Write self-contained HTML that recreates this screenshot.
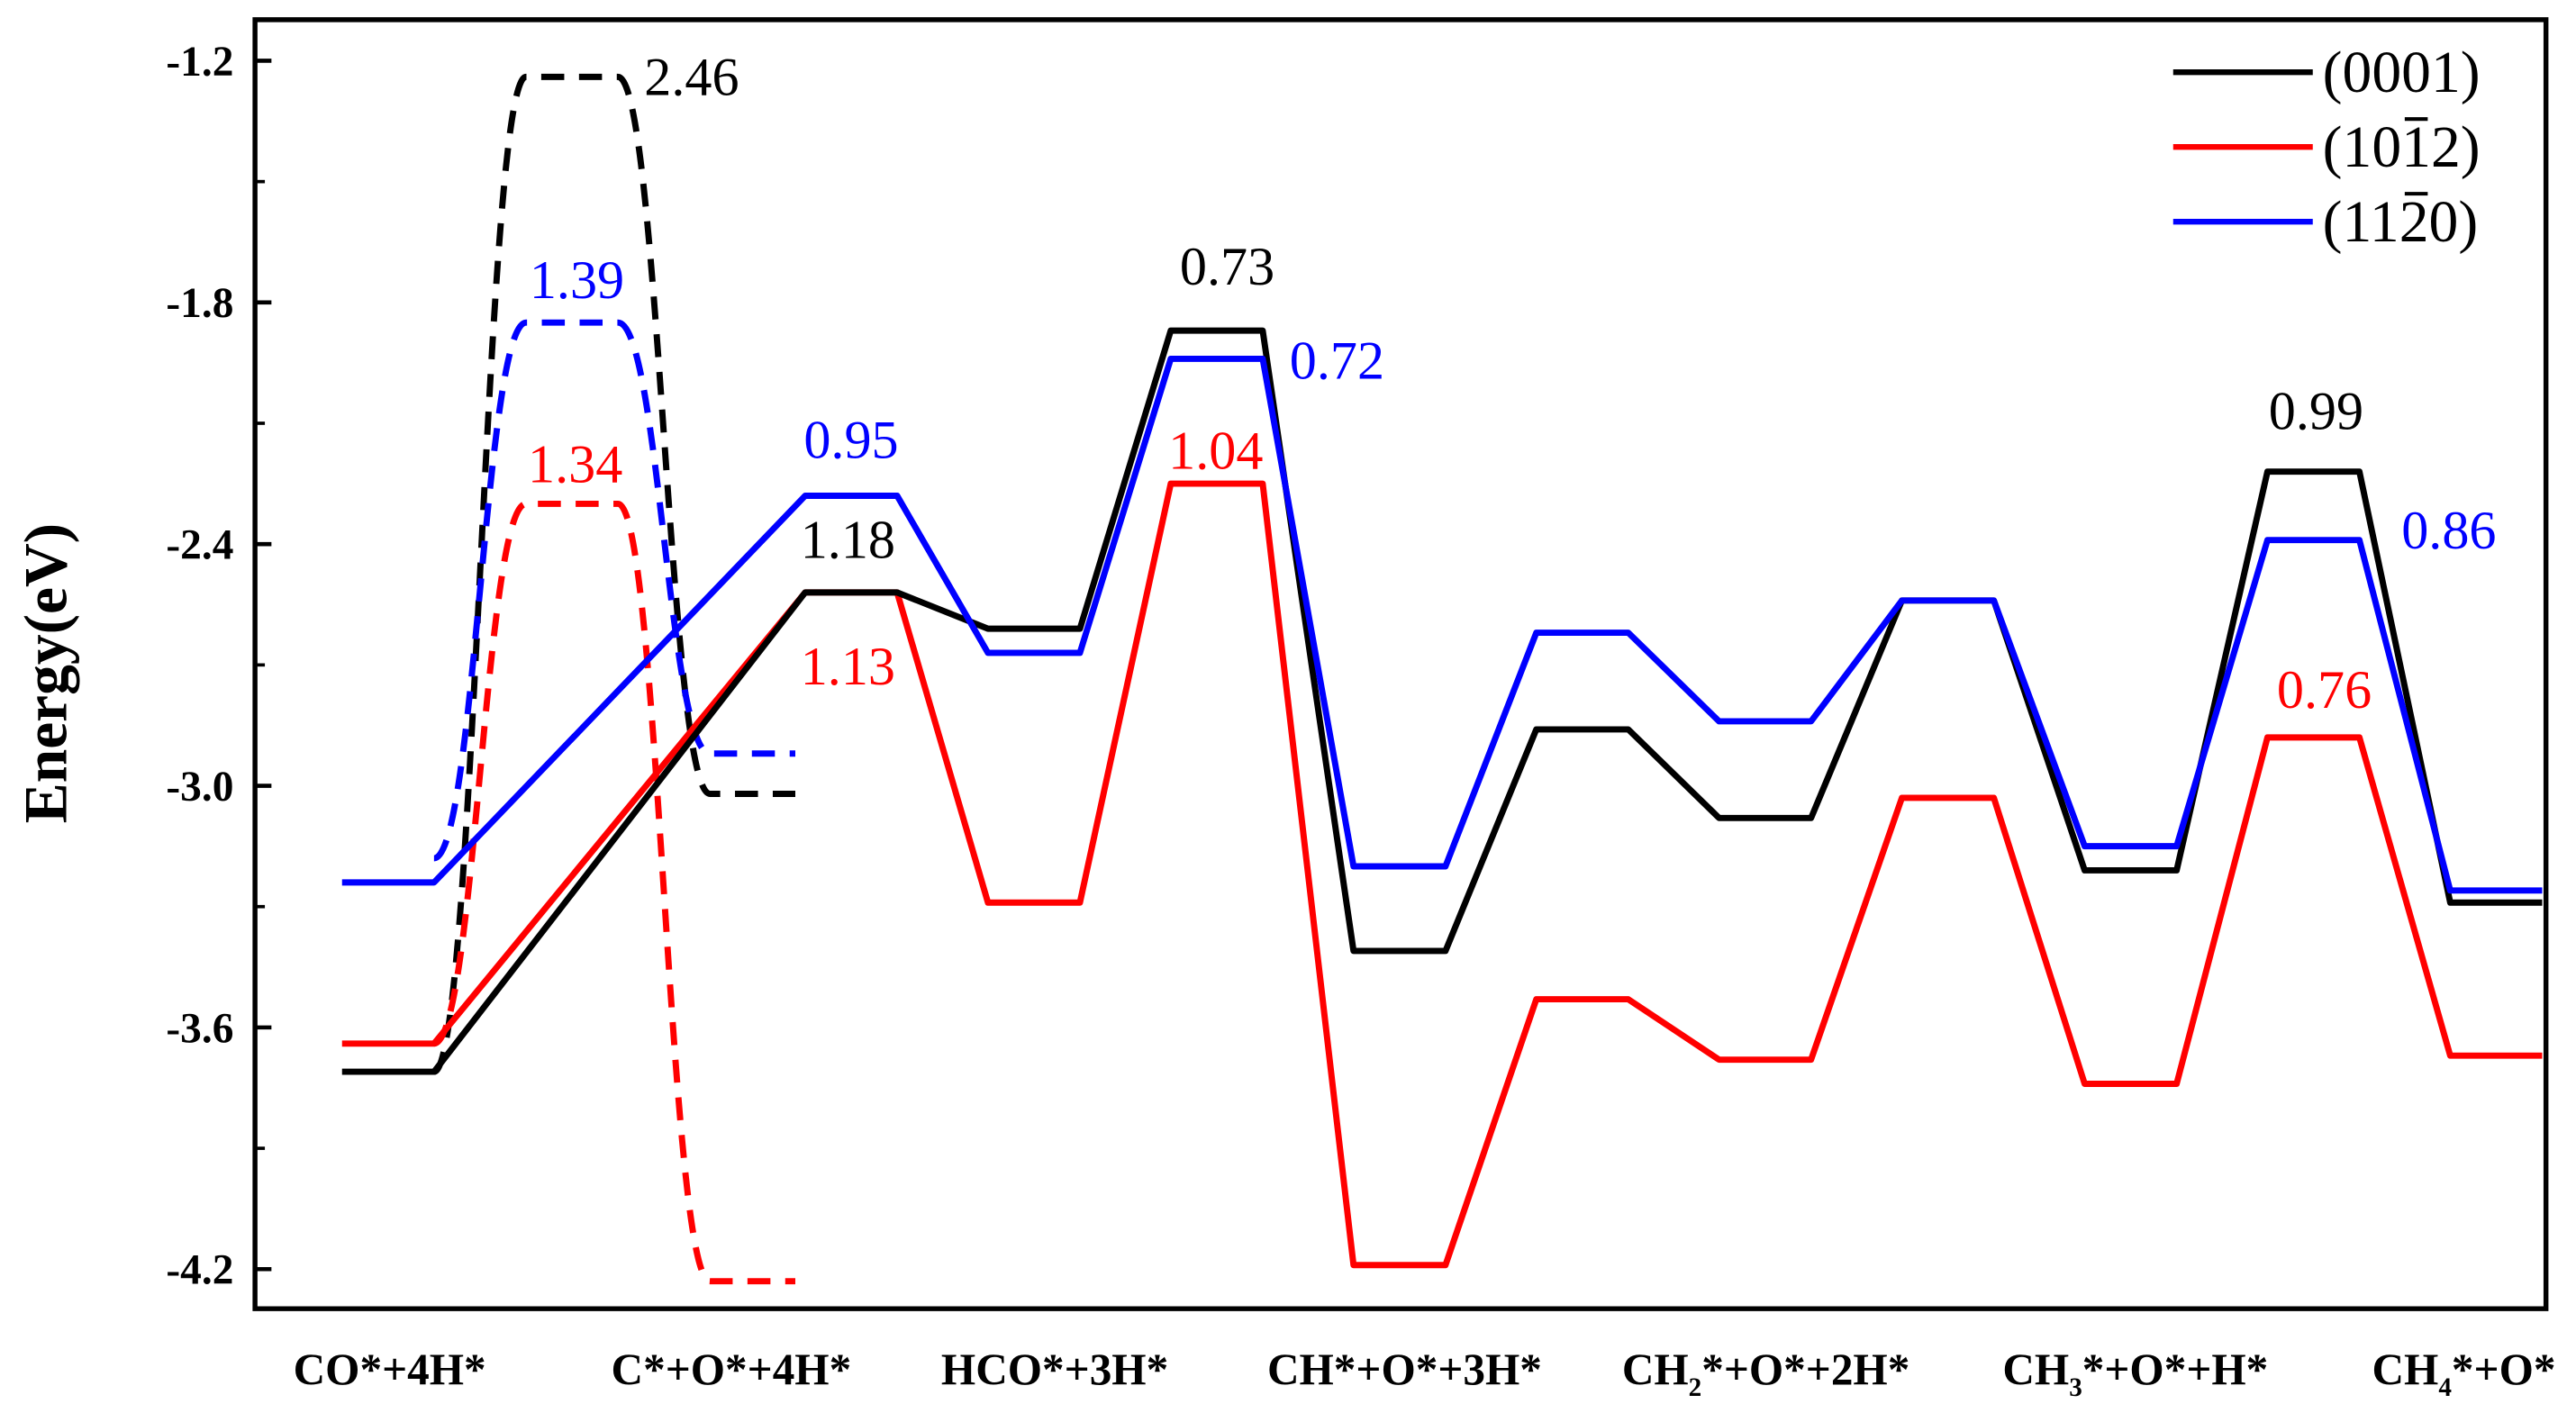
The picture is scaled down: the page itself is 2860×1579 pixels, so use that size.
<!DOCTYPE html>
<html><head><meta charset="utf-8"><style>
html,body{margin:0;padding:0;background:#fff;}
svg{display:block;}
text{font-family:"Liberation Serif",serif;}
</style></head><body>
<svg id="chart" width="2860" height="1579" viewBox="0 0 1568 866" xmlns="http://www.w3.org/2000/svg" font-family="Liberation Serif, serif">
<rect x="0" y="0" width="1568" height="866" fill="#fff"/>
<g id="plot"></g>
<g id="axes"></g>
<g id="labels"></g>
<g id="legend"></g>
</svg>
<script>
const categories=["CO*+4H*","C*+O*+4H*","HCO*+3H*","CH*+O*+3H*","CH2*+O*+2H*","CH3*+O*+H*","CH4*+O*"];
const yTicks=[-1.2,-1.8,-2.4,-3.0,-3.6,-4.2];
const black0001=[-3.71,-2.52,-2.61,-1.87,-3.41,-2.86,-3.08,-2.54,-3.21,-2.22,-3.29];
const red1012=[-3.64,-2.52,-3.29,-2.25,-4.19,-3.53,-3.68,-3.03,-3.74,-2.88,-3.67];
const blue1120=[-3.24,-2.28,-2.67,-1.94,-3.20,-2.62,-2.84,-2.54,-3.15,-2.39,-3.26];
const blackDashed=[-3.71,-1.24,-3.02];
const redDashed=[-3.64,-2.30,-4.23];
const blueDashed=[-3.18,-1.85,-2.92];
const barrierBlack=["2.46","1.18","0.73","0.99"];
const barrierRed=["1.34","1.13","1.04","0.76"];
const barrierBlue=["1.39","0.95","0.72","0.86"];
const NS="http://www.w3.org/2000/svg";
function y(v){return 37+(-1.2-v)*245.3;}
function lvlX(i){return i===0?208:490+(i-1)*111.3;}
function dX(i){return 208+i*112;}
const W=56;
function mk(tag,attrs,parent){const e=document.createElementNS(NS,tag);for(const k in attrs)e.setAttribute(k,attrs[k]);parent.appendChild(e);return e;}
const plot=document.getElementById('plot');
function series(vals,color,name){
  let pts=[];
  vals.forEach((v,i)=>{const x0=lvlX(i);let x1=Math.min(x0+W,1550);pts.push(x0+','+y(v));pts.push(x1+','+y(v));});
  const p=mk('polyline',{points:pts.join(' '),fill:'none',stroke:color,'stroke-width':3.8,'stroke-linejoin':'round'},plot);
  
  
}
function dashed(vals,color,name){
  let d='';
  vals.forEach((v,i)=>{const x0=dX(i);const x1=x0+W;
    if(i===0){d+='M'+(x1)+' '+y(v);}
    else{const px=dX(i-1)+W;const pv=y(vals[i-1]);const cy=y(v);
      d+=' C'+(px+25)+' '+pv+' '+(x0-25)+' '+cy+' '+x0+' '+cy+' L'+(x1-(i===2?4:0))+' '+cy;}
  });
  const p=mk('path',{d:d,fill:'none',stroke:color,'stroke-width':3.8,'stroke-dasharray':'14,9'},plot);
  
  
}
dashed(blackDashed,'#000','dashed-0001-direct-dissociation');
dashed(blueDashed,'#0000ff','dashed-1120-direct-dissociation');
dashed(redDashed,'#ff0000','dashed-1012-direct-dissociation');
series(red1012,'#ff0000','line-1012');
series(black0001,'#000','line-0001');
series(blue1120,'#0000ff','line-1120');

const axes=document.getElementById('axes');
const frame=mk('path',{d:'M155 12 L1550 12 L1550 797 L155 797 Z',fill:'none',stroke:'#000','stroke-width':3},axes);


yTicks.forEach((t,i)=>{
  mk('line',{x1:155,x2:165,y1:y(t),y2:y(t),stroke:'#000','stroke-width':2.5},axes);
  if(i<yTicks.length-1) mk('line',{x1:155,x2:161,y1:y(t-0.3),y2:y(t-0.3),stroke:'#000','stroke-width':2},axes);
  if(i===0) mk('line',{x1:155,x2:161,y1:y(t+0.3),y2:y(t+0.3),stroke:'#000','stroke-width':2},axes);
  const tx=mk('text',{x:142,y:y(t)+9,'text-anchor':'end','font-size':26,'font-weight':'bold'},axes);
  tx.textContent=t.toFixed(1);
  
  
});
const yt=mk('text',{x:0,y:0,transform:'translate(40,410) rotate(-90)','text-anchor':'middle','font-size':37,'font-weight':'bold'},axes);
yt.textContent='Energy(eV)';


const catX=[237,445,642,855,1075,1300,1500];
categories.forEach((c,i)=>{
  const t=mk('text',{x:catX[i],y:843,'text-anchor':'middle','font-size':27,'font-weight':'bold'},axes);
  const m=c.match(/^CH([234])(.*)$/);
  if(m){t.textContent='CH';const s=mk('tspan',{dy:7,'font-size':16},t);s.textContent=m[1];const r=mk('tspan',{dy:-7},t);r.textContent=m[2];}
  else t.textContent=c;
  
  
});
const labels=document.getElementById('labels');
function lab(txt,x,yy,color,anchor){const t=mk('text',{x:x,y:yy+11,'text-anchor':anchor||'middle','font-size':33,fill:color},labels);t.textContent=txt;
  
  }
lab(barrierBlack[0],392,y(blackDashed[1]),'#000','start');
lab(barrierBlack[1],516,y(black0001[1])-32,'#000');
lab(barrierBlack[2],747,y(black0001[3])-39,'#000');
lab(barrierBlack[3],1410,y(black0001[9])-37,'#000');
lab(barrierBlue[0],351,y(blueDashed[1])-26,'#0000ff');
lab(barrierBlue[1],518,y(blue1120[1])-34,'#0000ff');
lab(barrierBlue[2],785,y(blue1120[3])+1,'#0000ff','start');
lab(barrierBlue[3],1462,y(blue1120[9])-6,'#0000ff','start');
lab(barrierRed[0],350,y(redDashed[1])-24,'#ff0000');
lab(barrierRed[1],516,y(red1012[1])+45,'#ff0000');
lab(barrierRed[2],740,y(red1012[3])-20,'#ff0000');
lab(barrierRed[3],1415,y(red1012[9])-29,'#ff0000');

const legend=document.getElementById('legend');
const legNames=['(0001)','(1012)','(1120)'];
const legColors=['#000','#ff0000','#0000ff'];
const over=[-1,2,2];
legNames.forEach((n,i)=>{
  const yy=44+i*45.5;
  const l=mk('line',{x1:1323,x2:1408,y1:yy,y2:yy,stroke:legColors[i],'stroke-width':3.5},legend);
  
  
  const t=mk('text',{x:1414,y:yy+12,'font-size':36,fill:'#000'},legend);
  t.textContent=n;
  
  
  if(over[i]>=0){const cx=1414+12+over[i]*18;mk('line',{x1:cx+2,x2:cx+16,y1:yy-17,y2:yy-17,stroke:'#000','stroke-width':2.2},legend);}
});
</script>
</body></html>
